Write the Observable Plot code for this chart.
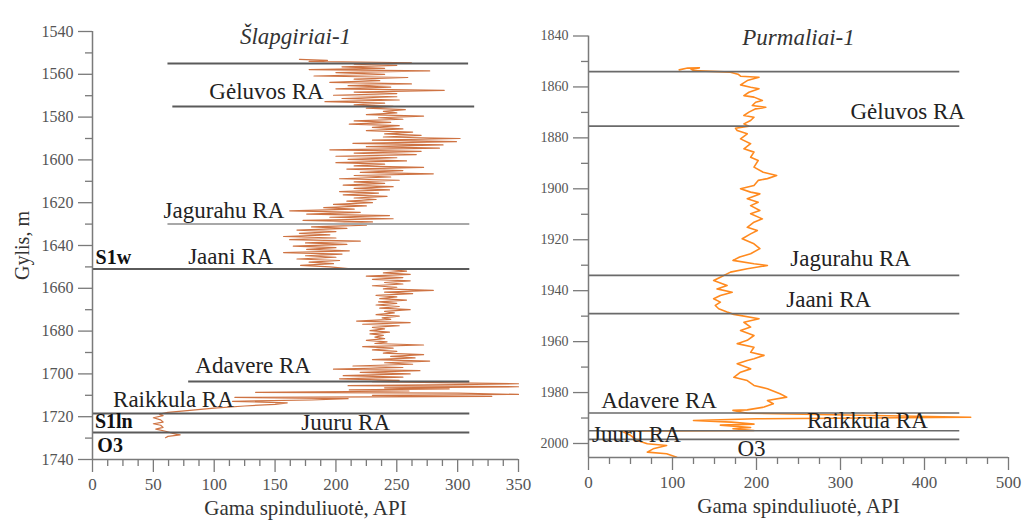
<!DOCTYPE html>
<html><head><meta charset="utf-8">
<script src="https://cdn.jsdelivr.net/npm/d3@7"></script>
<script src="https://cdn.jsdelivr.net/npm/@observablehq/plot@0.6"></script>
<style>
body{margin:0;background:#fff;}
#wrap{position:relative;width:1022px;height:522px;overflow:hidden;background:#fff;}
#wrap svg{position:absolute;top:0;overflow:visible;font-family:"Liberation Serif","Times New Roman",serif !important;}
#wrap svg text{font-family:"Liberation Serif","Times New Roman",serif !important;}
</style></head><body><div id="wrap"></div>
<script>
// ---------- Šlapgiriai-1 ----------
const slapTitle = "Šlapgiriai-1";
const slapDepth = [1553.0,1553.5,1554.0,1554.6,1555.2,1555.8,1556.5,1557.2,1557.8,1558.4,1559.2,1560.0,1560.8,1561.5,1562.3,1563.0,1563.8,1564.5,1565.3,1566.0,1566.8,1567.5,1568.3,1569.0,1569.8,1570.5,1571.3,1572.0,1572.8,1573.5,1574.3,1575.0,1575.8,1576.5,1577.3,1578.0,1578.8,1579.5,1580.3,1581.0,1581.8,1582.5,1583.3,1584.0,1584.8,1585.5,1586.3,1587.0,1587.8,1588.5,1589.3,1590.0,1590.8,1591.5,1592.3,1593.0,1593.8,1594.5,1595.3,1596.0,1596.8,1597.5,1598.3,1599.0,1599.8,1600.5,1601.3,1602.0,1602.8,1603.5,1604.3,1605.0,1605.8,1606.5,1607.3,1608.0,1608.8,1609.5,1610.3,1611.0,1611.8,1612.5,1613.3,1614.0,1614.8,1615.5,1616.3,1617.0,1617.8,1618.5,1619.3,1620.0,1620.8,1621.5,1622.3,1623.0,1623.8,1624.5,1625.3,1626.0,1626.8,1627.5,1628.3,1629.0,1629.8,1630.5,1631.3,1632.0,1632.8,1633.5,1634.3,1635.0,1635.8,1636.5,1637.3,1638.0,1638.8,1639.5,1640.3,1641.0,1641.8,1642.5,1643.3,1644.0,1644.8,1645.5,1646.3,1647.0,1647.8,1648.5,1649.3,1650.0,1650.8,1651.3,1652.0,1652.8,1653.5,1654.3,1655.0,1655.8,1656.5,1657.3,1658.0,1658.8,1659.5,1660.3,1661.0,1661.8,1662.5,1663.3,1664.0,1664.8,1665.5,1666.3,1667.0,1667.8,1668.5,1669.3,1670.0,1670.8,1671.5,1672.3,1673.0,1673.8,1674.5,1675.3,1676.0,1676.8,1677.5,1678.3,1679.0,1679.8,1680.5,1681.3,1682.0,1682.8,1683.5,1684.3,1685.0,1685.8,1686.5,1687.3,1688.0,1688.8,1689.5,1690.3,1691.0,1691.8,1692.5,1693.3,1694.0,1694.8,1695.5,1696.3,1697.0,1697.8,1698.5,1699.3,1700.0,1700.8,1701.5,1702.3,1703.0,1703.6,1704.2,1704.6,1705.0,1705.5,1706.0,1706.5,1707.0,1707.5,1708.0,1708.6,1709.0,1709.6,1710.0,1710.5,1711.0,1711.6,1712.2,1712.8,1713.5,1714.2,1715.0,1716.0,1717.0,1718.0,1718.8,1719.5,1720.5,1721.5,1722.5,1723.3,1724.0,1725.0,1725.8,1726.8,1727.8,1728.5,1729.2,1729.8];
const slapGamma = [170,193,178,262,215,250,205,240,178,277,200,240,182,259,215,236,195,262,210,245,200,289,215,250,198,250,205,252,191,240,215,247,225,257,239,250,225,272,235,255,215,245,211,252,230,255,225,263,240,270,239,302,230,299,214,288,225,285,195,270,215,266,200,250,210,258,200,240,215,272,209,255,220,280,215,245,203,252,215,240,206,247,215,244,203,235,206,242,215,233,209,230,198,225,190,215,162,220,176,244,195,247,173,230,198,225,180,209,168,200,170,195,157,200,162,220,175,209,165,200,176,211,157,205,175,200,168,203,178,198,171,195,210,245,258,239,261,225,255,230,261,240,255,230,250,239,280,240,263,233,250,236,258,235,250,233,252,236,261,240,248,233,252,238,245,217,261,222,252,230,240,228,244,228,239,232,240,225,242,232,272,222,247,230,250,239,272,245,265,230,277,240,263,214,255,198,269,220,261,206,255,203,252,230,299,350,300,210,350,240,293,211,260,134,300,350,230,328,117,210,180,115,160,150,125,100,80,62,55,58,50,56,58,50,56,58,52,60,66,72,62,60];
const slapYTicks = [1540,1560,1580,1600,1620,1640,1660,1680,1700,1720,1740];
const slapYMinor = [1550,1570,1590,1610,1630,1650,1670,1690,1710,1730];
const slapXTicks = [0,50,100,150,200,250,300,350];
const slapXMinor = [12.5,25,37.5,62.5,75,87.5,112.5,125,137.5,162.5,175,187.5,212.5,225,237.5,262.5,275,287.5,312.5,325,337.5];
const slapBoundDepth = [1555,1575,1630,1651,1703.5,1718.5,1727.4];
const slapBoundFrom  = [62,66,62,0,79,0,0];
const slapBoundTo    = [309,314,310,310,310,310,310];
const slapBoundLight = [false,false,true,false,false,false,false];
const slapLabelText  = ["Gėluvos RA","Jagurahu RA","Jaani RA","Adavere RA","Raikkula RA","Juuru RA"];
const slapLabelDepth = [1568,1623.6,1645.2,1696.2,1712.2,1723];
const slapLabelGamma = [143,108,113.5,132,66.5,208];
const slapUnitText   = ["S1w","S1ln","O3"];
const slapUnitDepth  = [1645.6,1722.5,1733.7];
const slapUnitGamma  = [2.5,2,4];

// ---------- Purmaliai-1 ----------
const purmTitle = "Purmaliai-1";
const purmDepth = [1853.3,1852.6,1852.5,1853.0,1853.6,1854.2,1855.0,1855.8,1856.2,1857.5,1859.2,1860.1,1860.7,1862.1,1863.4,1864.0,1865.3,1866.0,1867.3,1868.0,1868.6,1869.9,1871.2,1871.9,1873.2,1874.5,1875.4,1876.2,1877.1,1878.4,1880.4,1882.3,1884.3,1885.6,1887.6,1888.9,1891.5,1893.5,1894.8,1896.0,1896.7,1898.7,1900.0,1901.3,1902.0,1903.9,1905.3,1906.6,1908.5,1909.8,1911.8,1913.1,1915.1,1916.4,1917.7,1919.6,1921.6,1923.5,1925.5,1926.8,1928.1,1929.4,1930.1,1931.4,1932.7,1934.7,1936.0,1938.0,1939.3,1940.6,1941.9,1943.2,1944.5,1945.8,1947.1,1948.4,1949.3,1951.0,1952.4,1954.3,1955.6,1957.6,1959.5,1960.8,1962.2,1964.2,1965.4,1966.7,1967.4,1968.7,1970.7,1972.0,1974.0,1975.3,1977.2,1978.5,1980.5,1981.8,1983.1,1984.4,1985.7,1986.8,1987.0,1988.1,1989.7,1990.3,1991.0,1991.6,1992.4,1992.8,1993.7,1994.2,1994.9,1995.2,1996.8,1998.8,2000.1,2000.8,2002.1,2003.4,2004.0,2005.4];
const purmGamma = [108,118,132,122,125,169,178,181,203,189,181,193,203,191,185,197,207,199,195,211,199,191,185,197,193,185,191,175,177,189,181,193,185,197,193,202,197,208,224,213,202,197,181,193,204,189,202,193,204,193,207,197,189,201,193,183,197,204,193,180,172,197,213,189,169,157,149,165,153,171,157,149,157,151,155,165,173,203,185,193,181,197,189,177,197,193,209,197,189,177,193,181,173,189,197,213,228,236,213,220,209,189,172,189,455,200,125,170,197,157,193,172,197,40,50,58,70,93,77,70,93,105];
const purmYTicks = [1840,1860,1880,1900,1920,1940,1960,1980,2000];
const purmYMinor = [1850,1870,1890,1910,1930,1950,1970,1990];
const purmXTicks = [0,100,200,300,400,500];
const purmXMinor = [25,50,75,125,150,175,225,250,275,325,350,375,425,450,475];
const purmBoundDepth = [1854,1875.4,1934,1949,1988,1995,1998.4];
const purmBoundFrom  = [0,0,0,0,0,0,0];
const purmBoundTo    = [442,442,442,442,442,442,442];
const purmLabelText  = ["Gėluvos RA","Jagurahu RA","Jaani RA","Adavere RA","Raikkula RA","Juuru RA","O3"];
const purmLabelDepth = [1869.5,1927.4,1943.5,1983.3,1991.2,1996.5,2002];
const purmLabelGamma = [380,312,286,84,332,57,194];

const xTitle = "Gama spinduliuotė, API";
const yTitle = "Gylis, m";

const SERIF = "'Liberation Serif', 'Times New Roman', serif";
const AXIS = "#7a7a7a";
const TICKTXT = "#555";
const fmt = d => String(d);

function zipCurve(d, g){ return d.map((v,i)=>({depth:v, gamma:g[i]})); }
function zipBounds(d,a,b,l){ return d.map((v,i)=>({depth:v, from:a[i], to:b[i], light: l ? l[i] : false})); }
function zipLabels(t,d,g){ return t.map((v,i)=>({text:v, depth:d[i], gamma:g[i]})); }

const wrap = document.getElementById("wrap");

// Left panel
const slap = Plot.plot({
  width: 520, height: 522,
  marginLeft: 92, marginRight: 2, marginTop: 31, marginBottom: 63,
  style: {fontFamily: SERIF, background: "transparent", overflow: "visible"},
  x: {domain: [0, 350]},
  y: {domain: [1540, 1740], reverse: true},
  marks: [
    Plot.line(zipCurve(slapDepth, slapGamma), {x: "gamma", y: "depth", stroke: "#c9642f", strokeWidth: 1.2, strokeOpacity: 0.9}),
    Plot.ruleY(zipBounds(slapBoundDepth, slapBoundFrom, slapBoundTo, slapBoundLight), {y: "depth", x1: "from", x2: "to", stroke: d => d.light ? "#a8a8a8" : "#5a5a5a", strokeWidth: 2}),
    Plot.ruleX([0], {y1: 1540, y2: 1740, stroke: AXIS, strokeWidth: 1.5}),
    Plot.ruleY([1740], {x1: 0, x2: 350, stroke: AXIS, strokeWidth: 1.5}),
    Plot.axisY(slapYTicks, {tickSize: 14, tickPadding: 5, tickFormat: fmt, fontSize: 16, fontFamily: SERIF, fill: TICKTXT, stroke: AXIS, strokeWidth: 1.3, label: null}),
    Plot.axisY(slapYMinor, {tickSize: 7, tickFormat: () => "", stroke: AXIS, strokeWidth: 1.3, label: null}),
    Plot.axisX(slapXTicks, {tickSize: 13, tickPadding: 5, tickFormat: fmt, fontSize: 17, fontFamily: SERIF, fill: TICKTXT, stroke: AXIS, strokeWidth: 1.3, label: null}),
    Plot.axisX(slapXMinor, {tickSize: 7, tickFormat: () => "", stroke: AXIS, strokeWidth: 1.3, label: null}),
    Plot.text(zipLabels(slapLabelText, slapLabelDepth, slapLabelGamma), {x: "gamma", y: "depth", text: "text", fontSize: 23, fontFamily: SERIF, fill: "#222", textAnchor: "middle"}),
    Plot.text(zipLabels(slapUnitText, slapUnitDepth, slapUnitGamma), {x: "gamma", y: "depth", text: "text", fontSize: 20, fontFamily: SERIF, fontWeight: "bold", fill: "#111", textAnchor: "start"}),
    Plot.text([slapTitle], {frameAnchor: "top", dx: -10, dy: -4, fontSize: 23, fontFamily: SERIF, fontStyle: "italic", fill: "#333"}),
    Plot.text([xTitle], {frameAnchor: "bottom", dy: 55, fontSize: 21, fontFamily: SERIF, fill: "#333"}),
    Plot.text([yTitle], {frameAnchor: "left", textAnchor: "middle", dx: -70, rotate: -90, fontSize: 20, fontFamily: SERIF, fill: "#333"})
  ]
});
slap.style.left = "0px";
wrap.appendChild(slap);

// Right panel
const purm = Plot.plot({
  width: 502, height: 522,
  marginLeft: 68, marginRight: 14, marginTop: 35.5, marginBottom: 65,
  style: {fontFamily: SERIF, background: "transparent", overflow: "visible"},
  x: {domain: [0, 500]},
  y: {domain: [1840, 2005.5], reverse: true},
  marks: [
    Plot.line(zipCurve(purmDepth, purmGamma), {x: "gamma", y: "depth", stroke: "#ff8a1f", strokeWidth: 1.6}),
    Plot.ruleY(zipBounds(purmBoundDepth, purmBoundFrom, purmBoundTo), {y: "depth", x1: "from", x2: "to", stroke: "#6a6a6a", strokeWidth: 1.6}),
    Plot.ruleX([0], {y1: 1840, y2: 2005.5, stroke: AXIS, strokeWidth: 1.5}),
    Plot.ruleY([2005.5], {x1: 0, x2: 500, stroke: AXIS, strokeWidth: 1.5}),
    Plot.axisY(purmYTicks, {tickSize: 15, tickPadding: 5, tickFormat: fmt, fontSize: 14, fontFamily: SERIF, fill: TICKTXT, stroke: AXIS, strokeWidth: 1.3, label: null}),
    Plot.axisY(purmYMinor, {tickSize: 7, tickFormat: () => "", stroke: AXIS, strokeWidth: 1.3, label: null}),
    Plot.axisX(purmXTicks, {tickSize: 13, tickPadding: 5, tickFormat: fmt, fontSize: 17, fontFamily: SERIF, fill: TICKTXT, stroke: AXIS, strokeWidth: 1.3, label: null}),
    Plot.axisX(purmXMinor, {tickSize: 7, tickFormat: () => "", stroke: AXIS, strokeWidth: 1.3, label: null}),
    Plot.text(zipLabels(purmLabelText, purmLabelDepth, purmLabelGamma), {x: "gamma", y: "depth", text: "text", fontSize: 23, fontFamily: SERIF, fill: "#222", textAnchor: "middle"}),
    Plot.text([purmTitle], {frameAnchor: "top", dy: -7, fontSize: 23, fontFamily: SERIF, fontStyle: "italic", fill: "#333"}),
    Plot.text([xTitle], {frameAnchor: "bottom", dy: 55, fontSize: 21, fontFamily: SERIF, fill: "#333"})
  ]
});
purm.style.left = "520px";
wrap.appendChild(purm);
</script>
</body></html>
